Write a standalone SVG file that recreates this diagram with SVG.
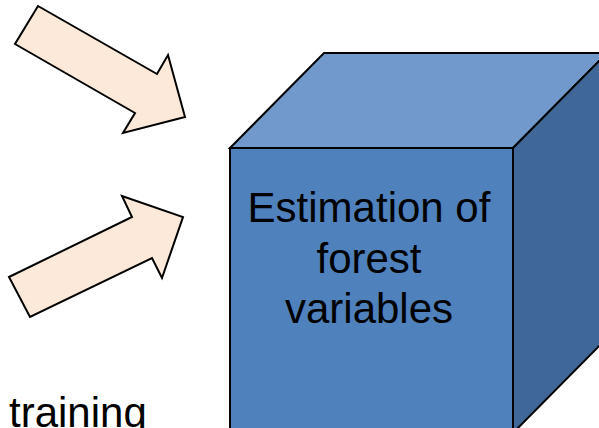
<svg xmlns="http://www.w3.org/2000/svg" width="599" height="428" viewBox="0 0 599 428">
<style>
.arrow{fill:#FDE9D9;stroke:#000;stroke-width:2;stroke-linejoin:miter}
.face{stroke:#000;stroke-width:2;stroke-linejoin:miter}
.t{font-family:"Liberation Sans",Arial,sans-serif;font-size:42px;fill:#000}
</style>
<rect width="599" height="428" fill="#fff"/>
<g id="connectors">
<polygon id="arrow1" class="arrow" points="38,6 157,74 168,55 185,117 123,133 135,113 15,44"/>
<polygon id="arrow2" class="arrow" points="9,277 132,217 122,196 183,217 162,278 152,258 30,317"/>
</g>
<g id="cube">
<polygon class="face" fill="#7299CB" points="230,148 324,53 607,53 513,148"/>
<polygon class="face" fill="#3F6797" points="513,148 607,53 607,338 513,433"/>
<rect class="face" fill="#4F81BD" x="230" y="148" width="283" height="290"/>
<text class="t" text-anchor="middle" x="369" y="222">Estimation of</text>
<text class="t" text-anchor="middle" x="369" y="273">forest</text>
<text class="t" text-anchor="middle" x="369" y="323">variables</text>
</g>
<g id="label">
<text class="t" x="9" y="427">training</text>
</g>
</svg>
